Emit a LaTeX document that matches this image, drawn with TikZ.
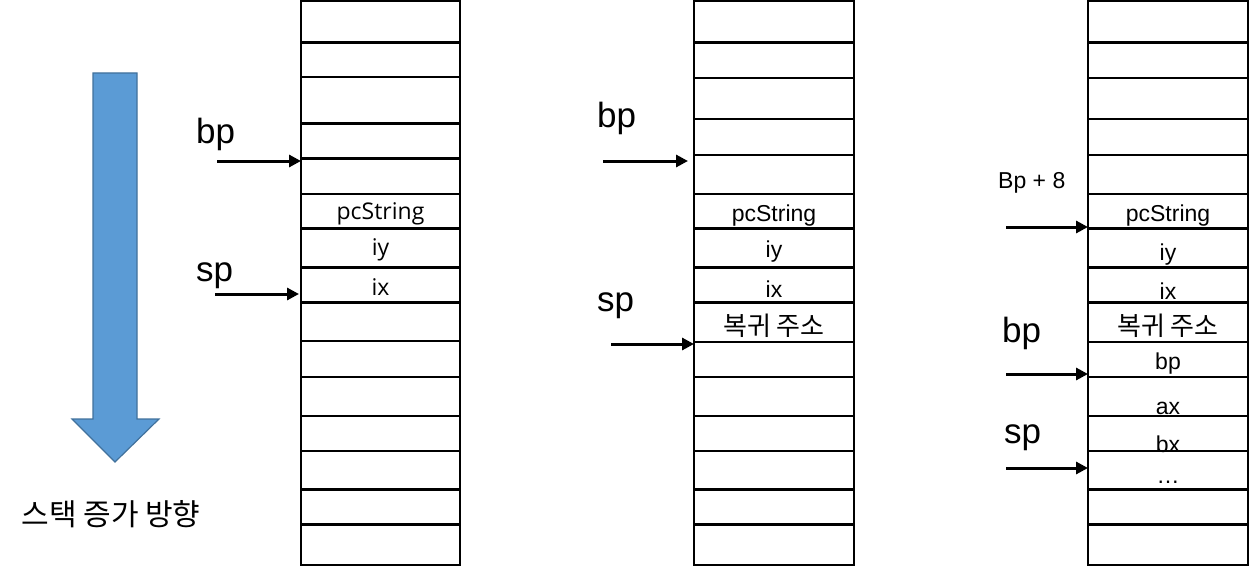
\documentclass[tikz,border=0pt]{standalone}
\usepackage{fontspec}
\setmainfont{Liberation Sans}
\newfontfamily\kr{Noto Sans CJK KR}
\newfontfamily\cellfont{Open Sans}
\usetikzlibrary{arrows.meta}
\definecolor{growfill}{HTML}{5B9BD5}
\definecolor{growedge}{HTML}{41719C}

\begin{document}
\begin{tikzpicture}[x=1pt,y=-1pt,
    ptr/.style={line width=3pt,-{Triangle[length=12pt,width=12pt]}},
    frame/.style={line width=2.2pt},
    reg/.style={anchor=base west,inner sep=0pt,font=\fontsize{35}{35}\selectfont},
    cell/.style={anchor=base,inner sep=0pt,font=\fontsize{23}{23}\selectfont}]
  \useasboundingbox (0,0) rectangle (1250,567);

  % stack growth direction
  \draw[fill=growfill,draw=growedge,line width=1.2pt]
    (93,73) -- (137,73) -- (137,419) -- (159,419) -- (115,462)
    -- (72,419) -- (93,419) -- cycle;
  \node[inner sep=0pt,font=\kr\fontsize{30}{30}\selectfont] (grow) at (111,514) {스택 증가 방향};

  % the three stacks
  \draw[frame] (301,1) rectangle (460,565);
  \foreach \y in {42.5,77,123.5,158.5,194,228.5,267.5,302.5,341,377,416,451,489.5,524.5}
    \draw[frame] (301,\y) -- (460,\y);
  \foreach \x in {694,1088} {
    \draw[frame] (\x,1) rectangle (\x+160,565);
    \foreach \y in {42.5,78,119,155,194,228.5,267.5,302.5,342,377,416,451,489.5,524.5}
      \draw[frame] (\x,\y) -- (\x+160,\y);
  }

  % first stack
  \begin{scope}[every node/.style={cell,font=\cellfont\fontsize{23}{23}\selectfont}]
    \node (pcA) at (380.5,219) {pcString};
    \node (iyA) at (380.5,255) {iy};
    \node (ixA) at (380.5,295) {ix};
  \end{scope}
  \node[reg] (bpA) at (196,143) {bp};
  \node[reg] (spA) at (196,281) {sp};
  \coordinate (bpAfrom) at (217,161);
  \coordinate (bpAto) at (301,161);
  \coordinate (spAfrom) at (215,294);
  \coordinate (spAto) at (299,294);
  \path (bpAfrom) edge[ptr] (bpAto);
  \path (spAfrom) edge[ptr] (spAto);

  % second stack
  \begin{scope}[every node/.style={cell}]
    \node (pcB) at (774,221) {pcString};
    \node (iyB) at (774,257) {iy};
    \node (ixB) at (774,297) {ix};
    \node[font=\kr\fontsize{26}{26}\selectfont] (retB) at (774,335) {복귀 주소};
  \end{scope}
  \node[reg] (bpB) at (597,128) {bp};
  \node[reg] (spB) at (597,311) {sp};
  \coordinate (bpBfrom) at (603,161);
  \coordinate (bpBto) at (688,161);
  \coordinate (spBfrom) at (611,344);
  \coordinate (spBto) at (694,344);
  \path (bpBfrom) edge[ptr] (bpBto);
  \path (spBfrom) edge[ptr] (spBto);

  % third stack
  \begin{scope}[every node/.style={cell}]
    \node (pcC) at (1168,221) {pcString};
    \node (iyC) at (1168,260) {iy};
    \node (ixC) at (1168,299.5) {ix};
    \node[font=\kr\fontsize{26}{26}\selectfont] (retC) at (1168,335) {복귀 주소};
    \node (bpsave) at (1168,369) {bp};
    \node (axC) at (1168,414) {ax};
    \node (bxC) at (1168,452) {bx};
    \node (dotsC) at (1168,483) {\dots};
  \end{scope}
  \node[reg,font=\fontsize{23}{23}\selectfont] (bparg) at (998,188) {Bp + 8};
  \node[reg] (bpC) at (1002,342) {bp};
  \node[reg] (spC) at (1004,443) {sp};
  \coordinate (argfrom) at (1006,227);
  \coordinate (argto) at (1088,227);
  \coordinate (bpCfrom) at (1006,374);
  \coordinate (bpCto) at (1088,374);
  \coordinate (spCfrom) at (1006,468);
  \coordinate (spCto) at (1088,468);
  \path (argfrom) edge[ptr] (argto);
  \path (bpCfrom) edge[ptr] (bpCto);
  \path (spCfrom) edge[ptr] (spCto);
\end{tikzpicture}
\end{document}
